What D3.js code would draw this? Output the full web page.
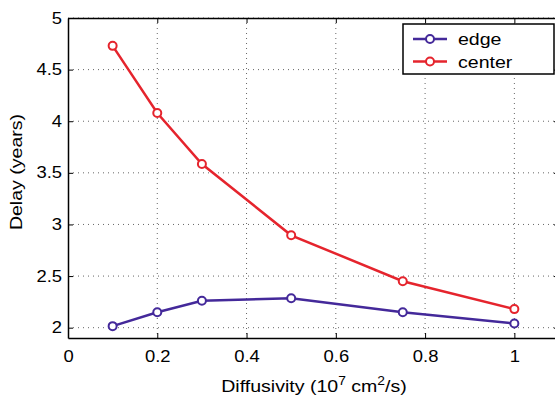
<!DOCTYPE html>
<html>
<head>
<meta charset="utf-8">
<script src="https://cdn.jsdelivr.net/npm/d3@7"></script>
<style>
  body { margin: 0; background: #fff; }
  svg { display: block; font-family: 'Liberation Sans', Arial, sans-serif; }
</style>
</head>
<body>
<div id="chart"></div>
<script>
const diffusivity = [0.1, 0.2, 0.3, 0.5, 0.75, 1.0];
const edgeDelay = [2.015, 2.15, 2.26, 2.285, 2.15, 2.04];
const centerDelay = [4.73, 4.08, 3.585, 2.895, 2.45, 2.18];
const xTicks = [0, 0.2, 0.4, 0.6, 0.8, 1];
const yTicks = [2, 2.5, 3, 3.5, 4, 4.5, 5];

const series = [
    { name: 'edge', values: edgeDelay, color: '#44299a' },
    { name: 'center', values: centerDelay, color: '#e5242d' }
];

const width = 555, height = 398;
const margins = { top: 18, right: -4, bottom: 60, left: 68 };
const innerW = width - margins.left - margins.right;
const innerH = height - margins.top - margins.bottom;

// the source font is wider than Liberation Sans, stretch text along its baseline
const STRETCH = 1.15;
function stretch(sel) {
    sel.each(function () {
        const len = this.getComputedTextLength();
        if (len > 0) {
            d3.select(this)
                .attr('textLength', len * STRETCH)
                .attr('lengthAdjust', 'spacingAndGlyphs');
        }
    });
}

const svg = d3.select('#chart').append('svg')
    .attr('width', width)
    .attr('height', height);

const canvas = svg.append('g')
    .attr('transform', `translate(${margins.left}, ${margins.top})`);

const xScale = d3.scaleLinear().domain([0, 1.1]).range([0, innerW]);
const yScale = d3.scaleLinear().domain([1.9, 5]).range([innerH, 0]);

// dotted grid
canvas.append('g').selectAll('line')
    .data(xTicks.filter(d => d > 0))
    .enter().append('line')
    .attr('x1', d => xScale(d)).attr('x2', d => xScale(d))
    .attr('y1', 0).attr('y2', innerH)
    .attr('stroke', '#666').attr('stroke-width', 1)
    .attr('stroke-dasharray', '1,4');

canvas.append('g').selectAll('line')
    .data(yTicks)
    .enter().append('line')
    .attr('x1', 0).attr('x2', innerW)
    .attr('y1', d => yScale(d)).attr('y2', d => yScale(d))
    .attr('stroke', '#666').attr('stroke-width', 1)
    .attr('stroke-dasharray', '1,4');

// axes, ticks inward
const fmt = d3.format('~g');
const xAxis = canvas.append('g')
    .attr('transform', `translate(0, ${innerH})`)
    .call(d3.axisBottom(xScale).tickValues(xTicks).tickSizeInner(-5).tickSizeOuter(0).tickPadding(12.5).tickFormat(fmt));
const xTop = canvas.append('g')
    .call(d3.axisTop(xScale).tickValues(xTicks).tickSizeInner(-5).tickSizeOuter(0).tickFormat(''));
const yAxis = canvas.append('g')
    .call(d3.axisLeft(yScale).tickValues(yTicks).tickSizeInner(-5).tickSizeOuter(0).tickPadding(6).tickFormat(fmt));
const yRight = canvas.append('g')
    .attr('transform', `translate(${innerW}, 0)`)
    .call(d3.axisRight(yScale).tickValues(yTicks).tickSizeInner(-5).tickSizeOuter(0).tickFormat(''));

[xAxis, xTop, yAxis, yRight].forEach(ax => {
    ax.select('.domain').attr('stroke', '#000').attr('stroke-width', 1.5);
    ax.selectAll('.tick line').attr('stroke', '#000');
    ax.selectAll('.tick text').attr('fill', '#000').style('font-size', '16px')
        .style('font-family', "'Liberation Sans', Arial, sans-serif");
    stretch(ax.selectAll('.tick text'));
});

// lines and markers
const line = d3.line()
    .x((d, i) => xScale(diffusivity[i]))
    .y(d => yScale(d));

series.forEach(s => {
    canvas.append('path')
        .datum(s.values)
        .attr('d', line)
        .attr('fill', 'none')
        .attr('stroke', s.color)
        .attr('stroke-width', 2.5);
    canvas.selectAll(null)
        .data(s.values)
        .enter().append('circle')
        .attr('cx', (d, i) => xScale(diffusivity[i]))
        .attr('cy', d => yScale(d))
        .attr('r', 4)
        .attr('fill', '#fff')
        .attr('stroke', s.color)
        .attr('stroke-width', 2);
});

// legend
const legend = svg.append('g').attr('transform', 'translate(403, 24)');
legend.append('rect')
    .attr('width', 151).attr('height', 50)
    .attr('fill', '#fff').attr('stroke', '#000').attr('stroke-width', 1.5);
series.forEach((s, i) => {
    const y = 15 + i * 22.5;
    legend.append('line')
        .attr('x1', 10).attr('x2', 44).attr('y1', y).attr('y2', y)
        .attr('stroke', s.color).attr('stroke-width', 2.5);
    legend.append('circle')
        .attr('cx', 27).attr('cy', y).attr('r', 4)
        .attr('fill', '#fff').attr('stroke', s.color).attr('stroke-width', 2);
    legend.append('text')
        .attr('x', 55).attr('y', y + 6)
        .style('font-size', '17px')
        .text(s.name)
        .call(stretch);
});

// axis labels
const xl = svg.append('text')
    .attr('x', 314)
    .attr('y', 392)
    .attr('text-anchor', 'middle')
    .style('font-size', '17px');
xl.append('tspan').text('Diffusivity (10');
xl.append('tspan').attr('dy', -7).style('font-size', '12px').text('7');
xl.append('tspan').attr('dy', 7).text(' cm');
xl.append('tspan').attr('dy', -7).style('font-size', '12px').text('2');
xl.append('tspan').attr('dy', 7).text('/s)');
stretch(xl.selectAll('tspan'));

svg.append('text')
    .attr('transform', 'translate(22, 172) rotate(-90)')
    .attr('text-anchor', 'middle')
    .style('font-size', '17px')
    .text('Delay (years)')
    .call(stretch);
</script>
</body>
</html>
